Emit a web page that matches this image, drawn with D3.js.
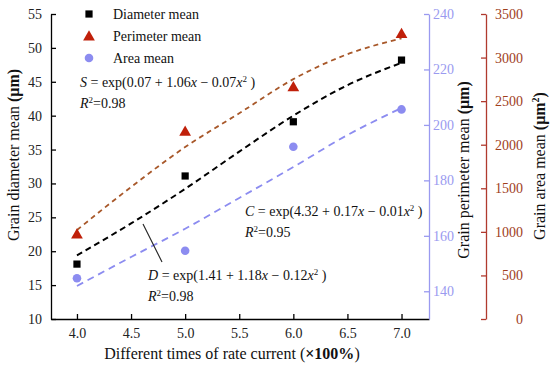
<!DOCTYPE html>
<html><head><meta charset="utf-8">
<script src="https://cdn.jsdelivr.net/npm/d3@7"></script>
<style>
html,body{margin:0;padding:0;background:#fff;}
svg text{font-family:'Liberation Serif','Times New Roman',Times,serif !important;}
</style></head>
<body><svg id="c" width="550" height="366" font-family="Liberation Serif"></svg>
<script>
// ---- data ----
const xValues = [4.0, 5.0, 6.0, 7.0];
const diameterMean = [18.1, 31.1, 39.1, 48.2];        // left axis (µm)
const perimeterMean = [160.3, 197.3, 213.4, 232.6];   // perimeter axis (µm)
const areaMean = [467, 784, 1977, 2405];              // area axis (µm²)

const fitX = [4.0, 4.5, 5.0, 5.5, 6.0, 6.5, 7.0];
const diameterFit = [19.4, 24.1, 29.2, 34.7, 40.0, 44.5, 47.8];
const perimeterFit = [162.1, 177.6, 192.0, 204.2, 216.5, 225.5, 231.2];
const areaFit = [379, 711, 1036, 1389, 1744, 2111, 2421];

const xTicks = [4.0, 4.5, 5.0, 5.5, 6.0, 6.5, 7.0];
const leftTicks = [10, 15, 20, 25, 30, 35, 40, 45, 50, 55];
const perimTicks = [140, 160, 180, 200, 220, 240];
const areaTicks = [0, 500, 1000, 1500, 2000, 2500, 3000, 3500];

const FONT = "'Liberation Serif','Times New Roman',Times,serif";
const svg = d3.select("#c");
const pTop = 14, pBottom = 319, pLeft = 51, pRight = 429, areaAxisX = 486;

const x = d3.scaleLinear().domain([3.76, 7.254]).range([pLeft, pRight]);
const yL = d3.scaleLinear().domain([10, 55]).range([pBottom, pTop]);
const yP = d3.scaleLinear().domain([130, 240]).range([pBottom, pTop]);
const yA = d3.scaleLinear().domain([0, 3500]).range([pBottom, pTop]);

const blueAxisCol = "#9a9af0", redAxisCol = "#b03a2e", redLabelCol = "#a0401c";
const circleCol = "#8c8cf0", triCol = "#c0200a", brownCol = "#a8582a";

// axes
const gx = svg.append("g").attr("transform", `translate(0,${pBottom})`)
  .call(d3.axisBottom(x).tickValues(xTicks).tickFormat(d3.format(".1f")).tickSizeInner(-5).tickSizeOuter(0).tickPadding(9));
const gl = svg.append("g").attr("transform", `translate(${pLeft},0)`)
  .call(d3.axisLeft(yL).tickValues(leftTicks).tickSizeInner(-5).tickSizeOuter(0).tickPadding(9));
const gp = svg.append("g").attr("transform", `translate(${pRight},0)`)
  .call(d3.axisRight(yP).tickValues(perimTicks).tickSizeInner(-5).tickSizeOuter(0).tickPadding(4));
const ga = svg.append("g").attr("transform", `translate(${areaAxisX},0)`)
  .call(d3.axisRight(yA).tickValues(areaTicks).tickFormat(d3.format("d")).tickSizeInner(-5).tickSizeOuter(0).tickPadding(4));

[gx, gl, gp, ga].forEach(g => g.attr("font-family", FONT).attr("font-size", 14));
[gx, gl].forEach(g => {
  g.selectAll("path,line").attr("stroke", "#000").attr("stroke-width", 1.3);
  g.selectAll("text").attr("fill", "#222");
});
gp.selectAll("path,line").attr("stroke", blueAxisCol).attr("stroke-width", 1.3);
gp.selectAll("text").attr("fill", blueAxisCol);
ga.selectAll("path,line").attr("stroke", redAxisCol).attr("stroke-width", 1.3);
ga.selectAll("text").attr("fill", redLabelCol).attr("text-anchor", "end").attr("x", 37);

// fit curves
const line = (ys, yScale) => d3.line().x((d, i) => x(fitX[i])).y(d => yScale(d)).curve(d3.curveMonotoneX)(ys);
svg.append("path").attr("d", line(perimeterFit, yP)).attr("fill", "none")
  .attr("stroke", brownCol).attr("stroke-width", 1.8).attr("stroke-dasharray", "5,4");
svg.append("path").attr("d", line(diameterFit, yL)).attr("fill", "none")
  .attr("stroke", "#000").attr("stroke-width", 2).attr("stroke-dasharray", "6,4");
svg.append("path").attr("d", line(areaFit, yA)).attr("fill", "none")
  .attr("stroke", circleCol).attr("stroke-width", 1.8).attr("stroke-dasharray", "7,5");

// markers
const sq = d3.symbol().type(d3.symbolSquare).size(52);
const tri = d3.symbol().type(d3.symbolTriangle).size(60);
svg.selectAll(".sq").data(diameterMean).join("path").attr("class", "sq")
  .attr("d", sq).attr("transform", (d, i) => `translate(${x(xValues[i])},${yL(d)})`).attr("fill", "#000");
svg.selectAll(".tri").data(perimeterMean).join("path").attr("class", "tri")
  .attr("d", tri).attr("transform", (d, i) => `translate(${x(xValues[i])},${yP(d)})`).attr("fill", triCol);
svg.selectAll(".ci").data(areaMean).join("circle").attr("class", "ci")
  .attr("cx", (d, i) => x(xValues[i])).attr("cy", d => yA(d)).attr("r", 4.3).attr("fill", circleCol);

// legend
const lg = svg.append("g");
const legendItems = ["Diameter mean", "Perimeter mean", "Area mean"];
lg.append("path").attr("d", sq).attr("transform", "translate(89,14)").attr("fill", "#000");
lg.append("path").attr("d", tri).attr("transform", "translate(89,37)").attr("fill", triCol);
lg.append("circle").attr("cx", 89).attr("cy", 58).attr("r", 4.3).attr("fill", circleCol);
legendItems.forEach((t, i) => lg.append("text").attr("x", 113).attr("y", 19 + i * 22)
  .attr("font-family", FONT).attr("font-size", 14).attr("fill", "#111").text(t));

// equations
function eq(xp, yp, sym, a, b, c, r2) {
  const t = svg.append("text").attr("x", xp).attr("y", yp).attr("font-family", FONT).attr("font-size", 14).attr("fill", "#111");
  t.append("tspan").attr("font-style", "italic").text(sym);
  t.append("tspan").text(` = exp(${a} + ${b}`);
  t.append("tspan").attr("font-style", "italic").text("x");
  t.append("tspan").text(` \u2212 ${c}`);
  t.append("tspan").attr("font-style", "italic").text("x");
  t.append("tspan").attr("dy", -5).attr("font-size", 9).text("2");
  t.append("tspan").attr("dy", 5).text(" )");
  const r = svg.append("text").attr("x", xp).attr("y", yp + 21).attr("font-family", FONT).attr("font-size", 14).attr("fill", "#111");
  r.append("tspan").attr("font-style", "italic").text("R");
  r.append("tspan").attr("dy", -5).attr("font-size", 9).text("2");
  r.append("tspan").attr("dy", 5).text("=" + r2);
}
eq(80, 87, "S", "0.07", "1.06", "0.07", "0.98");
eq(245, 216, "C", "4.32", "0.17", "0.01", "0.95");
eq(148, 280, "D", "1.41", "1.18", "0.12", "0.98");
svg.append("line").attr("x1", 143).attr("y1", 224).attr("x2", 162).attr("y2", 262).attr("stroke", "#222").attr("stroke-width", 1.1);

// axis titles
const xt = svg.append("text").attr("x", 232).attr("y", 359).attr("text-anchor", "middle")
  .attr("font-family", FONT).attr("font-size", 16).attr("fill", "#111");
xt.append("tspan").text("Different times of rate current (");
xt.append("tspan").attr("font-weight", "bold").text("\u00d7100%");
xt.append("tspan").text(")");

function ytitle(xp, yc, main, unit, sup) {
  const t = svg.append("text").attr("transform", `translate(${xp},${yc}) rotate(-90)`)
    .attr("text-anchor", "middle").attr("font-family", FONT).attr("font-size", 16).attr("fill", "#111");
  t.append("tspan").text(main + " ");
  t.append("tspan").attr("font-weight", "bold").text("(" + unit);
  if (sup) t.append("tspan").attr("dy", -6).attr("font-size", 10).attr("font-weight", "bold").text(sup);
  t.append("tspan").attr("dy", sup ? 6 : 0).attr("font-weight", "bold").text(")");
}
ytitle(19, 155, "Grain diameter mean", "\u03bcm", null);
ytitle(469, 170, "Grain perimeter mean", "\u03bcm", null);
ytitle(545, 166, "Grain area mean", "\u03bcm", "2");
</script></body></html>
